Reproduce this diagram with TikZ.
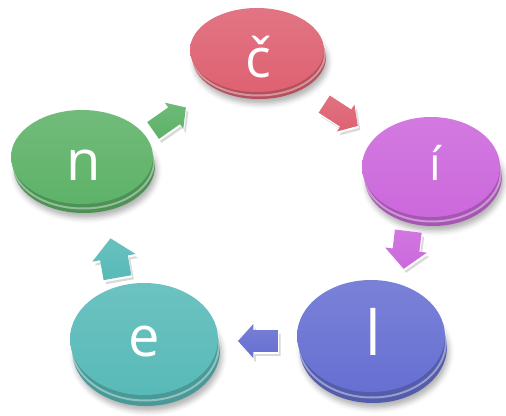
\documentclass[tikz,border=0pt]{standalone}
\usepackage{fontspec}
\setmainfont{Open Sans}
\usetikzlibrary{shapes.geometric,calc,shadows.blur}
\definecolor{cC}{RGB}{222,98,114}
\definecolor{cI}{RGB}{204,104,220}
\definecolor{cL}{RGB}{103,112,210}
\definecolor{cE}{RGB}{88,186,184}
\definecolor{cN}{RGB}{94,178,104}
\tikzset{
  rimdisc/.style={ellipse, inner sep=0pt, draw=none, fill=#1!82!black,
    blur shadow={shadow xshift=2pt, shadow yshift=-5pt, shadow blur radius=5pt, shadow opacity=30}},
  hldisc/.style={ellipse, inner sep=0pt, draw=white, draw opacity=0.4, line width=2pt},
  facedisc/.style={ellipse, inner sep=0pt, draw=none, top color=#1!88!white, bottom color=#1},
  letter/.style={text=white, inner sep=0pt},
  arrshadow/.style={fill=black, fill opacity=0.15},
  arrbevel/.style={fill=white},
  arrbody/.style={top color=#1!90!white, bottom color=#1}
}
% #1 style, #2 position, #3 angle, #4 length, #5 head width, #6 canvas offset
\newcommand\arrpart[6]{%
  \begin{scope}[shift={#2}, shift={#6}, rotate=#3]
    \path[#1]
      ({-#4/2},{-0.32*#5}) -- ({#4/2-0.45*#5},{-0.32*#5}) -- ({#4/2-0.45*#5},{-#5/2})
      -- ({#4/2},0) -- ({#4/2-0.45*#5},{#5/2}) -- ({#4/2-0.45*#5},{0.32*#5})
      -- ({-#4/2},{0.32*#5}) -- cycle;
  \end{scope}}
% #1 colour, #2 position, #3 angle, #4 length, #5 head width
\newcommand\blockarr[5]{%
  \arrpart{arrshadow}{#2}{#3}{#4}{#5}{(2.5,4)}%
  \arrpart{arrbevel}{#2}{#3}{#4}{#5}{(0.8,2)}%
  \arrpart{arrbody=#1}{#2}{#3}{#4}{#5}{(0,0)}}
\begin{document}
\begin{tikzpicture}[x=1pt,y=-1pt]
\useasboundingbox (0,0) rectangle (506,415);
% c caron
\node[rimdisc=cC, minimum width=134pt, minimum height=84pt] (cr) at (259,57) {};
\node[hldisc, minimum width=134pt, minimum height=84pt] (ch) at (258,53.5) {};
\node[facedisc=cC, minimum width=134pt, minimum height=84pt] (c) at (257,50) {};
\node[letter, font=\fontsize{54}{54}\selectfont] (tc) at (258,57) {č};
% i acute
\node[rimdisc=cI, minimum width=138pt, minimum height=100pt] (ir) at (433,176) {};
\node[hldisc, minimum width=138pt, minimum height=100pt] (ih) at (432,171.5) {};
\node[facedisc=cI, minimum width=138pt, minimum height=100pt] (i) at (431,167) {};
\node[letter, font=\fontsize{46}{46}\selectfont] (ti) at (435,163) {í};
% l
\node[rimdisc=cL, minimum width=148pt, minimum height=112pt] (lr) at (373,347) {};
\node[hldisc, minimum width=148pt, minimum height=112pt] (lh) at (372,341.5) {};
\node[facedisc=cL, minimum width=148pt, minimum height=112pt] (l) at (371,336) {};
\node[letter, font=\fontsize{62}{62}\selectfont] (tl) at (373,332) {l};
% e
\node[rimdisc=cE, minimum width=148pt, minimum height=112pt] (er) at (146,350) {};
\node[hldisc, minimum width=148pt, minimum height=112pt] (eh) at (145,344.5) {};
\node[facedisc=cE, minimum width=148pt, minimum height=112pt] (e) at (144,339) {};
\node[letter, font=\fontsize{56}{56}\selectfont] (te) at (144,342) {e};
% n
\node[rimdisc=cN, minimum width=142pt, minimum height=94pt] (nr) at (84,166) {};
\node[hldisc, minimum width=142pt, minimum height=94pt] (nh) at (83,161.5) {};
\node[facedisc=cN, minimum width=142pt, minimum height=94pt] (n) at (82,157) {};
\node[letter, font=\fontsize{56}{56}\selectfont] (tn) at (84,165) {n};
% arrows between the discs
\blockarr{cC}{($(c)!0.5!(i)+(-3,6.5)$)}{-33}{40}{32}
\blockarr{cI}{($(i)!0.5!(l)+(5,-1.5)$)}{-97}{38}{42}
\blockarr{cL}{($(l)!0.5!(e)+(0.5,3.5)$)}{180}{40}{34}
\blockarr{cE}{($(e)!0.5!(n)+(1,10)$)}{100}{40}{44}
\blockarr{cN}{($(n)!0.5!(c)+(0,15.5)$)}{35}{40}{32}
\end{tikzpicture}
\end{document}
